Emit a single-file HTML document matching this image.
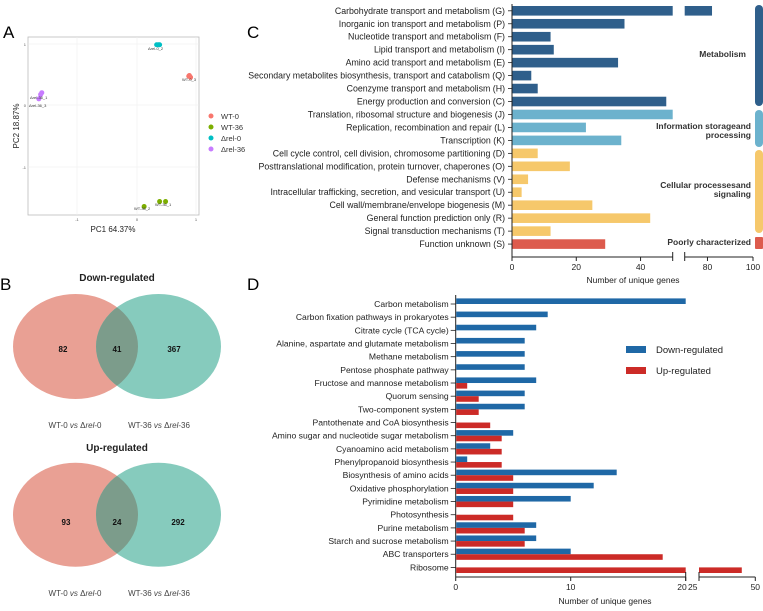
<!DOCTYPE html>
<html><head><meta charset="utf-8"><style>
body{margin:0;background:#fff;}
svg{display:block;font-family:"Liberation Sans",Arial,sans-serif;}
</style></head><body>
<svg id="fig" width="763" height="611" viewBox="0 0 763 611">
<text x="3" y="38" font-size="17">A</text>
<text x="0" y="290" font-size="17">B</text>
<text x="247" y="38" font-size="17">C</text>
<text x="247" y="290" font-size="17">D</text>

<g>
<rect x="28" y="37" width="171" height="178" fill="#fff" stroke="#bbb" stroke-width="0.8"/>
<g stroke="#eee" stroke-width="0.6">
<line x1="77" y1="37" x2="77" y2="215"/><line x1="137" y1="37" x2="137" y2="215"/><line x1="196" y1="37" x2="196" y2="215"/>
<line x1="28" y1="44" x2="199" y2="44"/><line x1="28" y1="105" x2="199" y2="105"/><line x1="28" y1="167" x2="199" y2="167"/>
</g>
<text x="26" y="46" font-size="4" text-anchor="end" fill="#555">1</text>
<text x="26" y="107" font-size="4" text-anchor="end" fill="#555">0</text>
<text x="26" y="169" font-size="4" text-anchor="end" fill="#555">-1</text>
<text x="77" y="221" font-size="4" text-anchor="middle" fill="#555">-1</text>
<text x="137" y="221" font-size="4" text-anchor="middle" fill="#555">0</text>
<text x="196" y="221" font-size="4" text-anchor="middle" fill="#555">1</text>
<text x="113" y="232" font-size="8" text-anchor="middle" fill="#222">PC1 64.37%</text>
<text x="19" y="126" font-size="8" text-anchor="middle" fill="#222" transform="rotate(-90 19 126)">PC2 18.87%</text>
<g id="pcaPts"></g>
<g font-size="4" fill="#333">
<text x="148" y="50">Δrel-0_2</text><text x="182" y="81">WT-0_3</text>
<text x="30" y="99">Δrel-36_1</text><text x="29" y="107">Δrel-36_3</text>
<text x="134" y="210">WT-36_2</text><text x="155" y="206">WT-36_1</text>
</g>
<g font-size="7.5" fill="#333">
<circle cx="211" cy="116" r="2.5" fill="#f8766d"/><text x="221" y="119">WT-0</text>
<circle cx="211" cy="127" r="2.5" fill="#7cae00"/><text x="221" y="130">WT-36</text>
<circle cx="211" cy="138" r="2.5" fill="#00bfc4"/><text x="221" y="141">Δrel-0</text>
<circle cx="211" cy="149" r="2.5" fill="#c77cff"/><text x="221" y="152">Δrel-36</text>
</g>
</g>

<g>
<text x="117" y="281" font-size="10" font-weight="bold" text-anchor="middle" fill="#222">Down-regulated</text>
<ellipse cx="75.5" cy="346.5" rx="62.5" ry="52.5" fill="#e9a094"/>
<ellipse cx="158.5" cy="346.5" rx="62.5" ry="52.5" fill="#86cbbd"/>
<clipPath id="cd"><ellipse cx="75.5" cy="346.5" rx="62.5" ry="52.5"/></clipPath>
<ellipse cx="158.5" cy="346.5" rx="62.5" ry="52.5" fill="#7c9c8b" clip-path="url(#cd)"/>
<g font-size="8" font-weight="bold" text-anchor="middle" fill="#111">
<text x="63" y="352">82</text><text x="117" y="352">41</text><text x="174" y="352">367</text></g>
<g font-size="8" text-anchor="middle" fill="#444">
<text x="75" y="428">WT-0 <tspan font-style="italic">vs</tspan> Δ<tspan font-style="italic">rel</tspan>-0</text>
<text x="159" y="428">WT-36 <tspan font-style="italic">vs</tspan> Δ<tspan font-style="italic">rel</tspan>-36</text></g>
</g>
<g>
<text x="117" y="451" font-size="10" font-weight="bold" text-anchor="middle" fill="#222">Up-regulated</text>
<ellipse cx="75.5" cy="514.7" rx="62.5" ry="52" fill="#e9a094"/>
<ellipse cx="158.5" cy="514.7" rx="62.5" ry="52" fill="#86cbbd"/>
<clipPath id="cu"><ellipse cx="75.5" cy="514.7" rx="62.5" ry="52"/></clipPath>
<ellipse cx="158.5" cy="514.7" rx="62.5" ry="52" fill="#7c9c8b" clip-path="url(#cu)"/>
<g font-size="8" font-weight="bold" text-anchor="middle" fill="#111">
<text x="66" y="525">93</text><text x="117" y="525">24</text><text x="178" y="525">292</text></g>
<g font-size="8" text-anchor="middle" fill="#444">
<text x="75" y="596">WT-0 <tspan font-style="italic">vs</tspan> Δ<tspan font-style="italic">rel</tspan>-0</text>
<text x="159" y="596">WT-36 <tspan font-style="italic">vs</tspan> Δ<tspan font-style="italic">rel</tspan>-36</text></g>
</g>

<g id="cog"></g>
<g id="kegg"></g>
</svg>
<script>
const NS="http://www.w3.org/2000/svg";
function mk(parent,tag,attrs,txt){const e=document.createElementNS(NS,tag);for(const k in attrs)e.setAttribute(k,attrs[k]);if(txt!==undefined)e.textContent=txt;parent.appendChild(e);return e;}

const pcaGroups=["WT-0","WT-36","Δrel-0","Δrel-36"];
const pcaX=[[0.88,0.9,0.87],[0.12,0.38,0.48],[0.33,0.36,0.38],[-1.6,-1.62,-1.65]];
const pcaY=[[0.48,0.45,0.47],[-1.65,-1.57,-1.57],[0.98,0.98,0.98],[0.2,0.17,0.1]];
const pcaColors=["#f8766d","#7cae00","#00bfc4","#c77cff"];
const pcaG=document.getElementById('pcaPts');
const px=v=>137+v*59.5, py=v=>105-v*61.5;
pcaX.forEach((arr,g)=>arr.forEach((v,i)=>{
  const c=mk(pcaG,'circle',{cx:px(v),cy:py(pcaY[g][i]),r:2.5,fill:pcaColors[g]});
  
  
}));

const cogCats=["Carbohydrate transport and metabolism (G)","Inorganic ion transport and metabolism (P)","Nucleotide transport and metabolism (F)","Lipid transport and metabolism (I)","Amino acid transport and metabolism (E)","Secondary metabolites biosynthesis, transport and catabolism (Q)","Coenzyme transport and metabolism (H)","Energy production and conversion (C)","Translation, ribosomal structure and biogenesis (J)","Replication, recombination and repair (L)","Transcription (K)","Cell cycle control, cell division, chromosome partitioning (D)","Posttranslational modification, protein turnover, chaperones (O)","Defense mechanisms (V)","Intracellular trafficking, secretion, and vesicular transport (U)","Cell wall/membrane/envelope biogenesis (M)","General function prediction only (R)","Signal transduction mechanisms (T)","Function unknown (S)"];
const cogValues=[82,35,12,13,33,6,8,48,50,23,34,8,18,5,3,25,43,12,29];
const cogGroup=[0,0,0,0,0,0,0,0,1,1,1,2,2,2,2,2,2,2,3];
const cogTicks1=[0,20,40];
const cogTicks2=[80,100];
const cogColors=["#2f5f8b","#6cb2cd","#f6c86b","#dd5b4d"];
const C=document.getElementById('cog');
const cx0=512, cBreak=50, cx1=672.7, c2s=70, cx2=684.7, cx3=753;
function cX(v){return v<=cBreak?cx0+v*(cx1-cx0)/cBreak:(v<c2s?cx1:cx2+(v-c2s)*(cx3-cx2)/(100-c2s));}
const cRow=i=>10.8+i*12.96, cAxisY=257;
mk(C,'line',{x1:cx0,y1:4,x2:cx0,y2:cAxisY,stroke:'#222','stroke-width':1});
cogCats.forEach((c,i)=>{
  const y=cRow(i);
  const t=mk(C,'text',{x:cx0-7,y:y+3,'font-size':8.8,'text-anchor':'end',fill:'#222'},c);
  
  
  mk(C,'line',{x1:cx0-4,y1:y,x2:cx0,y2:y,stroke:'#222','stroke-width':0.8});
  const v=cogValues[i], h=9.6;
  const b1=mk(C,'rect',{x:cx0+0.5,y:y-h/2,width:cX(Math.min(v,cBreak))-cx0-0.5,height:h,fill:cogColors[cogGroup[i]]});
  
  
  if(v>cBreak){
    const b2=mk(C,'rect',{x:cx2,y:y-h/2,width:cX(v)-cx2,height:h,fill:cogColors[cogGroup[i]]});
    
    
  }
});
mk(C,'line',{x1:cx0,y1:cAxisY,x2:cx1,y2:cAxisY,stroke:'#222','stroke-width':1});
mk(C,'line',{x1:cx2,y1:cAxisY,x2:cx3,y2:cAxisY,stroke:'#222','stroke-width':1});
[cx1,cx2].forEach(x=>mk(C,'line',{x1:x,y1:cAxisY-5,x2:x,y2:cAxisY+4,stroke:'#222','stroke-width':1}));
cogTicks1.concat(cogTicks2).forEach(v=>{
  const x=cX(v);
  mk(C,'line',{x1:x,y1:cAxisY,x2:x,y2:cAxisY+4,stroke:'#222','stroke-width':1});
  const t=mk(C,'text',{x:x,y:cAxisY+13,'font-size':8.5,'text-anchor':'middle',fill:'#222'},v);
  
  
});
const ct=mk(C,'text',{x:633,y:283,'font-size':8.5,'text-anchor':'middle',fill:'#222'},'Number of unique genes');


const brk=[[5,106,0],[110,147,1],[150,233,2],[237,249,3]];
brk.forEach(b=>mk(C,'rect',{x:755,y:b[0],width:8,height:b[1]-b[0],rx:b[2]===3?1:4,fill:cogColors[b[2]]}));
const glab=[["Metabolism",57],["Information storageand",129],["processing",138],["Cellular processesand",188],["signaling",197],["Poorly characterized",245]];
glab.forEach(g=>{const t=mk(C,'text',{x:g[0]==="Metabolism"?746:751,y:g[1],'font-size':8.5,'font-weight':'bold','text-anchor':'end',fill:'#333'},g[0]);
  
  });

const keggCats=["Carbon metabolism","Carbon fixation pathways in prokaryotes","Citrate cycle (TCA cycle)","Alanine, aspartate and glutamate metabolism","Methane metabolism","Pentose phosphate pathway","Fructose and mannose metabolism","Quorum sensing","Two-component system","Pantothenate and CoA biosynthesis","Amino sugar and nucleotide sugar metabolism","Cyanoamino acid metabolism","Phenylpropanoid biosynthesis","Biosynthesis of amino acids","Oxidative phosphorylation","Pyrimidine metabolism","Photosynthesis","Purine metabolism","Starch and sucrose metabolism","ABC transporters","Ribosome"];
const keggDown=[20,8,7,6,6,6,7,6,6,0,5,3,1,14,12,10,0,7,7,10,0];
const keggUp=[0,0,0,0,0,0,1,2,2,3,4,4,4,5,5,5,5,6,6,18,44];
const keggTicks1=[0,10,20];
const keggTicks2=[25,50];
const D=document.getElementById('kegg');
const dx0=455.7, dB=20, dx1=685.7, dx2=699, dx3=755.3;
function dX(v){return v<=dB?dx0+v*(dx1-dx0)/dB:dx2+(v-25)*(dx3-dx2)/25;}
const dRow=i=>304+i*13.17, dAxisY=577;
mk(D,'line',{x1:dx0,y1:295,x2:dx0,y2:dAxisY,stroke:'#222','stroke-width':1});
keggCats.forEach((c,i)=>{
  const y=dRow(i);
  const t=mk(D,'text',{x:dx0-7,y:y+3,'font-size':8.6,'text-anchor':'end',fill:'#222'},c);
  
  
  mk(D,'line',{x1:dx0-5,y1:y,x2:dx0,y2:y,stroke:'#222','stroke-width':0.8});
  const h=5.6;
  if(keggDown[i]>0){
    const b=mk(D,'rect',{x:dx0+0.5,y:y-h,width:dX(Math.min(keggDown[i],dB))-dx0-0.5,height:h,fill:'#1f68a6'});
    
    
  }
  if(keggUp[i]>0){
    const b=mk(D,'rect',{x:dx0+0.5,y:y,width:dX(Math.min(keggUp[i],dB))-dx0-0.5,height:h,fill:'#cc2b27'});
    
    
    if(keggUp[i]>dB){
      const b2=mk(D,'rect',{x:dx2,y:y,width:dX(keggUp[i])-dx2,height:h,fill:'#cc2b27'});
      
      
    }
  }
});
mk(D,'line',{x1:dx0,y1:dAxisY,x2:dx1,y2:dAxisY,stroke:'#222','stroke-width':1});
mk(D,'line',{x1:dx2,y1:dAxisY,x2:dx3,y2:dAxisY,stroke:'#222','stroke-width':1});
[dx1,dx2].forEach(x=>mk(D,'line',{x1:x,y1:dAxisY-5,x2:x,y2:dAxisY+4,stroke:'#222','stroke-width':1}));
keggTicks1.concat(keggTicks2).forEach(v=>{
  const x=dX(v);
  mk(D,'line',{x1:x,y1:dAxisY,x2:x,y2:dAxisY+4,stroke:'#222','stroke-width':1});
  const anchor=v===20?'end':(v===25?'start':'middle');
  const t=mk(D,'text',{x:v===20?x+1:(v===25?x-11:x),y:dAxisY+13,'font-size':8.5,'text-anchor':anchor,fill:'#222'},v);
  
  
});
const dt=mk(D,'text',{x:605,y:604,'font-size':8.5,'text-anchor':'middle',fill:'#222'},'Number of unique genes');


const lg=mk(D,'g',{});


mk(lg,'rect',{x:626,y:346,width:20,height:7,fill:'#1f68a6'});
mk(lg,'text',{x:656,y:353,'font-size':9.5,fill:'#222'},'Down-regulated');
mk(lg,'rect',{x:626,y:367,width:20,height:7,fill:'#cc2b27'});
mk(lg,'text',{x:656,y:374,'font-size':9.5,fill:'#222'},'Up-regulated');
</script>
</body></html>
